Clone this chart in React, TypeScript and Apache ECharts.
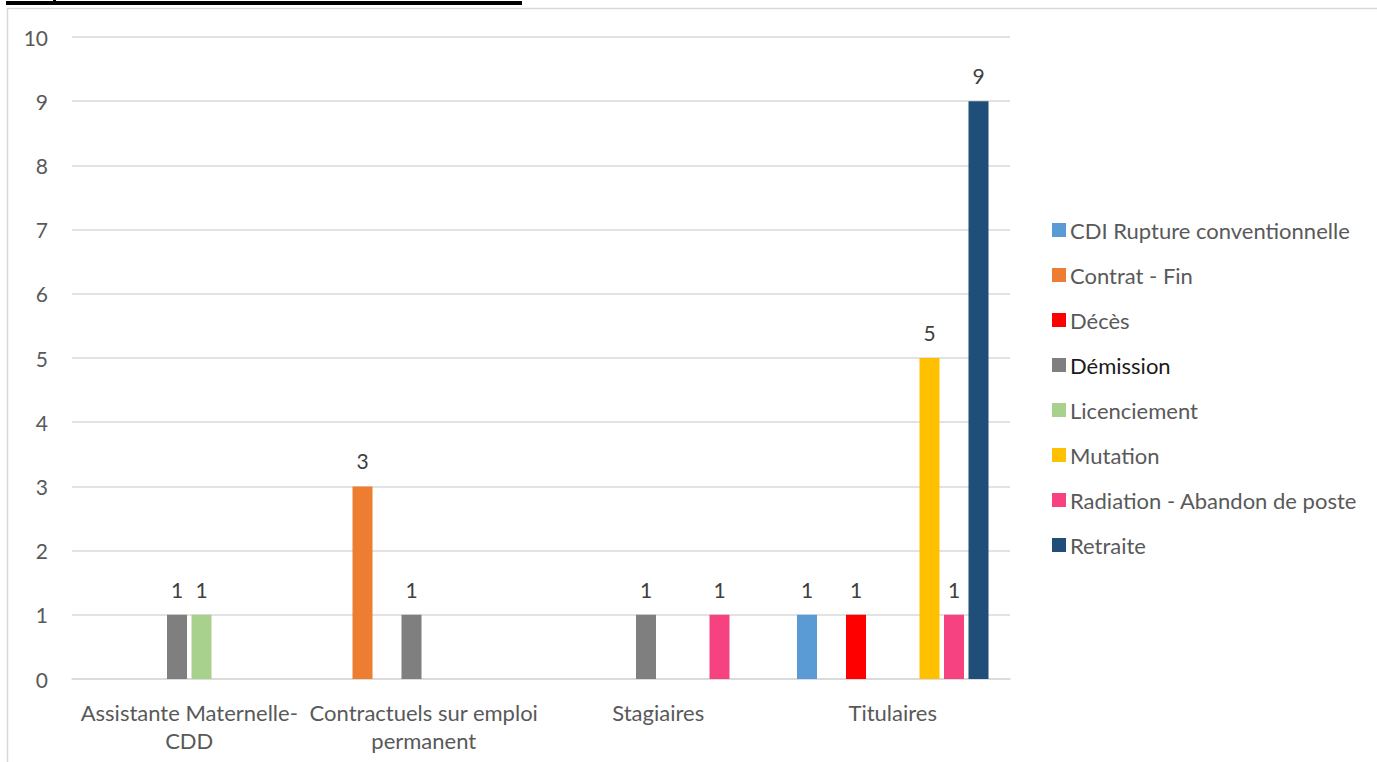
import React, { useEffect, useRef } from "react";
import * as echarts from "echarts";

const categories = ["Assistante Maternelle-\nCDD", "Contractuels sur emploi\npermanent", "Stagiaires", "Titulaires"];
const seriesNames = [
  "CDI Rupture conventionnelle",
  "Contrat - Fin",
  "Décès",
  "Démission",
  "Licenciement",
  "Mutation",
  "Radiation - Abandon de poste",
  "Retraite",
];
const cdiRupture = [null, null, null, 1];
const contratFin = [null, 3, null, null];
const deces = [null, null, null, 1];
const demission = [1, 1, 1, null];
const licenciement = [1, null, null, null];
const mutation = [null, null, null, 5];
const radiation = [null, null, 1, 1];
const retraite = [null, null, null, 9];
const seriesValues = [cdiRupture, contratFin, deces, demission, licenciement, mutation, radiation, retraite];
const colors = ["#5B9BD5", "#ED7D31", "#FF0000", "#7F7F7F", "#A9D18E", "#FFC000", "#F64281", "#1F4E79"];
const yTicks = { min: 0, max: 10, interval: 1 };

const FONT = "Lato";

export default function App() {
  const ref = useRef<HTMLDivElement>(null);
  useEffect(() => {
    if (!ref.current) return;
    const chart = echarts.init(ref.current, null, { renderer: "svg" });
    chart.setOption({
      animation: false,
      backgroundColor: "#ffffff",
      textStyle: { fontFamily: FONT },
      graphic: [
        { type: "rect", shape: { x: 7.5, y: 8.5, width: 1400, height: 800 }, style: { fill: "none", stroke: "#d9d9d9", lineWidth: 1.5 } },
        { type: "rect", shape: { x: 6, y: 1, width: 516, height: 4 }, style: { fill: "#000000" } },
        { type: "rect", shape: { x: 53, y: 0, width: 3, height: 2 }, style: { fill: "#000000" } },
      ],
      grid: { left: 72, right: 367, top: 37, bottom: 83, containLabel: false },
      legend: {
        orient: "vertical",
        left: 1047,
        top: 214,
        icon: "rect",
        itemWidth: 14,
        itemHeight: 14,
        itemGap: 23,
        textStyle: { fontFamily: FONT, fontSize: 22, color: "#595959", lineHeight: 22, padding: [0, 0, 0, -1] },
        data: seriesNames.map((n) => (n === "Démission" ? { name: n, textStyle: { color: "#1a1a1a" } } : { name: n })),
      },
      xAxis: {
        type: "category",
        data: categories,
        axisLine: { lineStyle: { color: "#d9d9d9", width: 1.5 } },
        axisTick: { show: false },
        axisLabel: { color: "#595959", fontSize: 22, lineHeight: 28, margin: 19, interval: 0, fontFamily: FONT },
      },
      yAxis: {
        type: "value",
        min: yTicks.min,
        max: yTicks.max,
        interval: yTicks.interval,
        axisLine: { show: false },
        axisTick: { show: false },
        splitLine: { lineStyle: { color: "#d9d9d9", width: 1.5 } },
        axisLabel: { color: "#595959", fontSize: 21, margin: 24, fontFamily: FONT },
      },
      series: seriesNames.map((name, i) => ({
        name,
        type: "bar",
        data: seriesValues[i],
        barWidth: 20,
        barGap: "22.5%",
        itemStyle: { color: colors[i] },
        label: { show: true, position: "top", distance: 15, color: "#404040", fontSize: 21, fontFamily: FONT },
      })),
    });
    return () => chart.dispose();
  }, []);
  return (
    <div style={{ position: "absolute", left: 0, top: 0, width: 1377, height: 762, overflow: "hidden" }}>
      <div ref={ref} style={{ width: 1377, height: 762 }} />
    </div>
  );
}
